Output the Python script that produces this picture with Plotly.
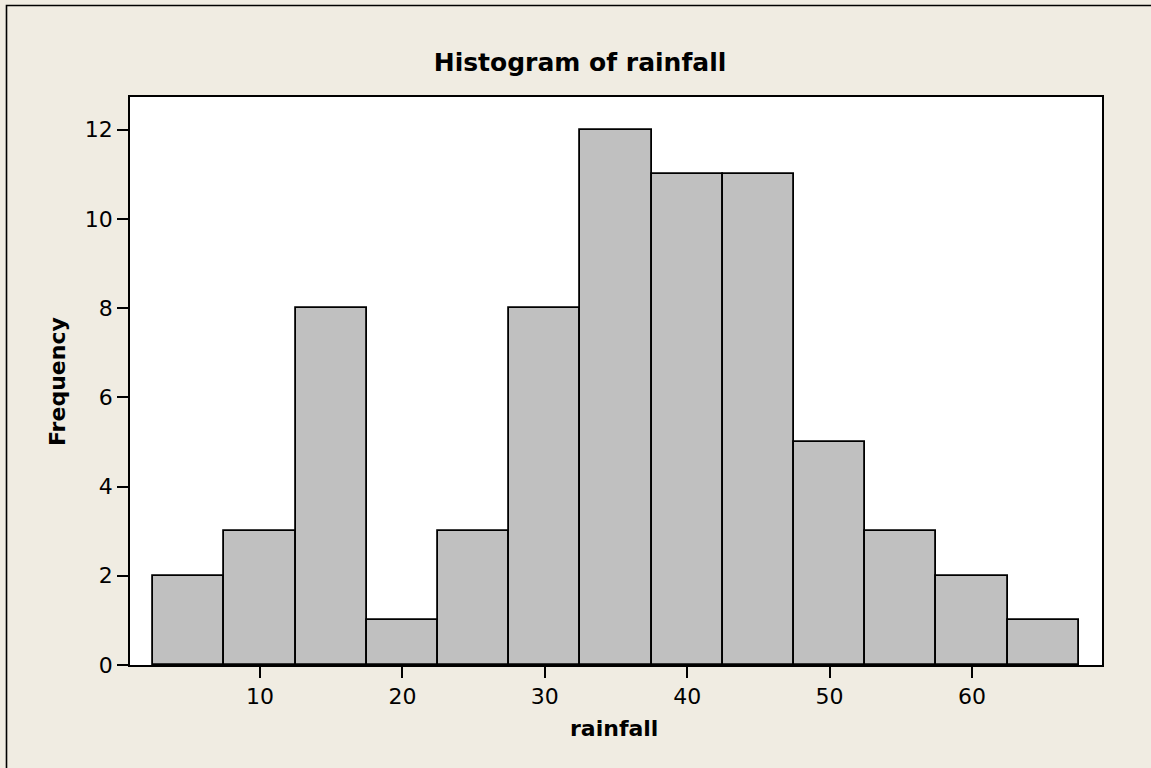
import plotly.graph_objects as go

bin_centers = [5, 10, 15, 20, 25, 30, 35, 40, 45, 50, 55, 60, 65]
frequency = [2, 3, 8, 1, 3, 8, 12, 11, 11, 5, 3, 2, 1]
bin_width = 5
x_ticks = [10, 20, 30, 40, 50, 60]
y_ticks = [0, 2, 4, 6, 8, 10, 12]

W, H = 1151, 768
ml, mr, mt, mb = 130, 49, 97, 103
pw, ph = W - ml - mr, H - mt - mb

FONT = "DejaVu Sans"

fig = go.Figure(go.Bar(
    x=bin_centers, y=frequency, width=[bin_width] * len(bin_centers),
    marker=dict(color="#C0C0C0", line=dict(color="black", width=1.8)),
    hoverinfo="x+y",
))

def px_x(p):
    return (p - ml) / pw

def px_y(p):
    return (H - mb - p) / ph

fig.update_layout(
    width=W, height=H,
    margin=dict(l=ml, r=mr, t=mt, b=mb),
    paper_bgcolor="#F0ECE2",
    plot_bgcolor="white",
    showlegend=False,
    bargap=0,
    font=dict(family=FONT, color="black", size=22),
    title=dict(text="<b>Histogram of rainfall</b>", x=580 / W, xanchor="center",
               y=1 - 62 / H, yanchor="middle", yref="container",
               font=dict(family=FONT, size=25, color="black")),
    xaxis=dict(range=[0.87, 69.13], tickvals=x_ticks, ticks="outside", ticklen=11,
               tickwidth=1.6, tickcolor="black", showline=True, linecolor="black",
               linewidth=1.8, mirror=True, showgrid=False, zeroline=False,
               tickfont=dict(size=22)),
    yaxis=dict(range=[0, 12.73], tickvals=y_ticks, ticks="outside", ticklen=11,
               tickwidth=1.6, tickcolor="black", showline=True, linecolor="black",
               linewidth=1.8, mirror=True, showgrid=False, zeroline=False,
               tickfont=dict(size=22)),
    annotations=[
        dict(text="<b>rainfall</b>", xref="paper", yref="paper", x=px_x(614), y=px_y(728),
             xanchor="center", yanchor="middle", showarrow=False,
             font=dict(family=FONT, size=22, color="black")),
        dict(text="<b>Frequency</b>", xref="paper", yref="paper", x=px_x(57), y=px_y(382),
             xanchor="center", yanchor="middle", showarrow=False, textangle=-90,
             font=dict(family=FONT, size=22, color="black")),
    ],
    shapes=[
        dict(type="rect", xref="paper", yref="paper", x0=px_x(6.5), y0=px_y(800),
             x1=px_x(1200), y1=px_y(5.5), line=dict(color="black", width=1.6),
             fillcolor="rgba(0,0,0,0)", layer="below"),
    ],
)

fig.write_html("out.html", config={"displayModeBar": False},
               post_script="document.body.style.margin='0';document.body.style.overflow='hidden';")
